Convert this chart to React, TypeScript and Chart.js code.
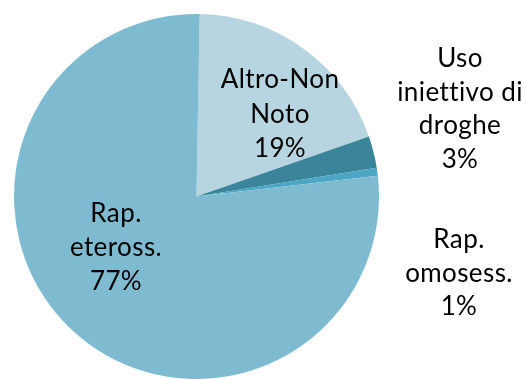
import React, { useEffect, useRef } from "react";
import { Chart, registerables } from "chart.js";

Chart.register(...registerables);

const categories = ["Altro-Non Noto", "Uso iniettivo di droghe", "Rap. omosess.", "Rap. eteross."];
const values = [19.4, 2.8, 0.7, 77.1];
const percentLabels = ["19%", "3%", "1%", "77%"];
const labelLines = [
  ["Altro-Non", "Noto", "19%"],
  ["Uso", "iniettivo di", "droghe", "3%"],
  ["Rap.", "omosess.", "1%"],
  ["Rap.", "eteross.", "77%"],
];
const colors = ["#b7d5e0", "#3a8599", "#4aa6c3", "#7fbbd0"];

// label anchor: center x and first baseline y, line height
const labelPlacement = [
  { x: 280, y: 88, lh: 34.5 },
  { x: 460, y: 67, lh: 33.7 },
  { x: 459, y: 248, lh: 33.5 },
  { x: 116, y: 222, lh: 34 },
];

const labelPlugin = {
  id: "sliceLabels",
  afterDraw(chart: any) {
    const ctx = chart.ctx;
    ctx.save();
    ctx.fillStyle = "#000000";
    ctx.font = "26px Lato";
    ctx.letterSpacing = "0.4px";
    ctx.textAlign = "center";
    ctx.textBaseline = "alphabetic";
    labelLines.forEach((lines, i) => {
      const p = labelPlacement[i];
      lines.forEach((t, j) => {
        ctx.fillText(t, p.x, p.y + j * p.lh);
      });
    });
    ctx.restore();
  },
};

export default function App() {
  const ref = useRef<HTMLCanvasElement>(null);
  useEffect(() => {
    if (!ref.current) return;
    const chart = new Chart(ref.current, {
      type: "pie",
      data: {
        labels: categories,
        datasets: [
          {
            data: values,
            backgroundColor: colors,
            borderWidth: 0,
          },
        ],
      },
      options: {
        responsive: false,
        animation: false,
        rotation: 1,
        layout: { padding: { left: 14, top: 14, right: 147, bottom: 0 } },
        plugins: {
          legend: { display: false },
          tooltip: { enabled: false },
        },
      },
      plugins: [labelPlugin],
    });
    return () => chart.destroy();
  }, []);
  return (
    <div style={{ position: "fixed", left: 0, top: 0, width: 526, height: 379, background: "#fff" }}>
      <canvas ref={ref} width={526} height={379} style={{ display: "block" }} />
    </div>
  );
}
